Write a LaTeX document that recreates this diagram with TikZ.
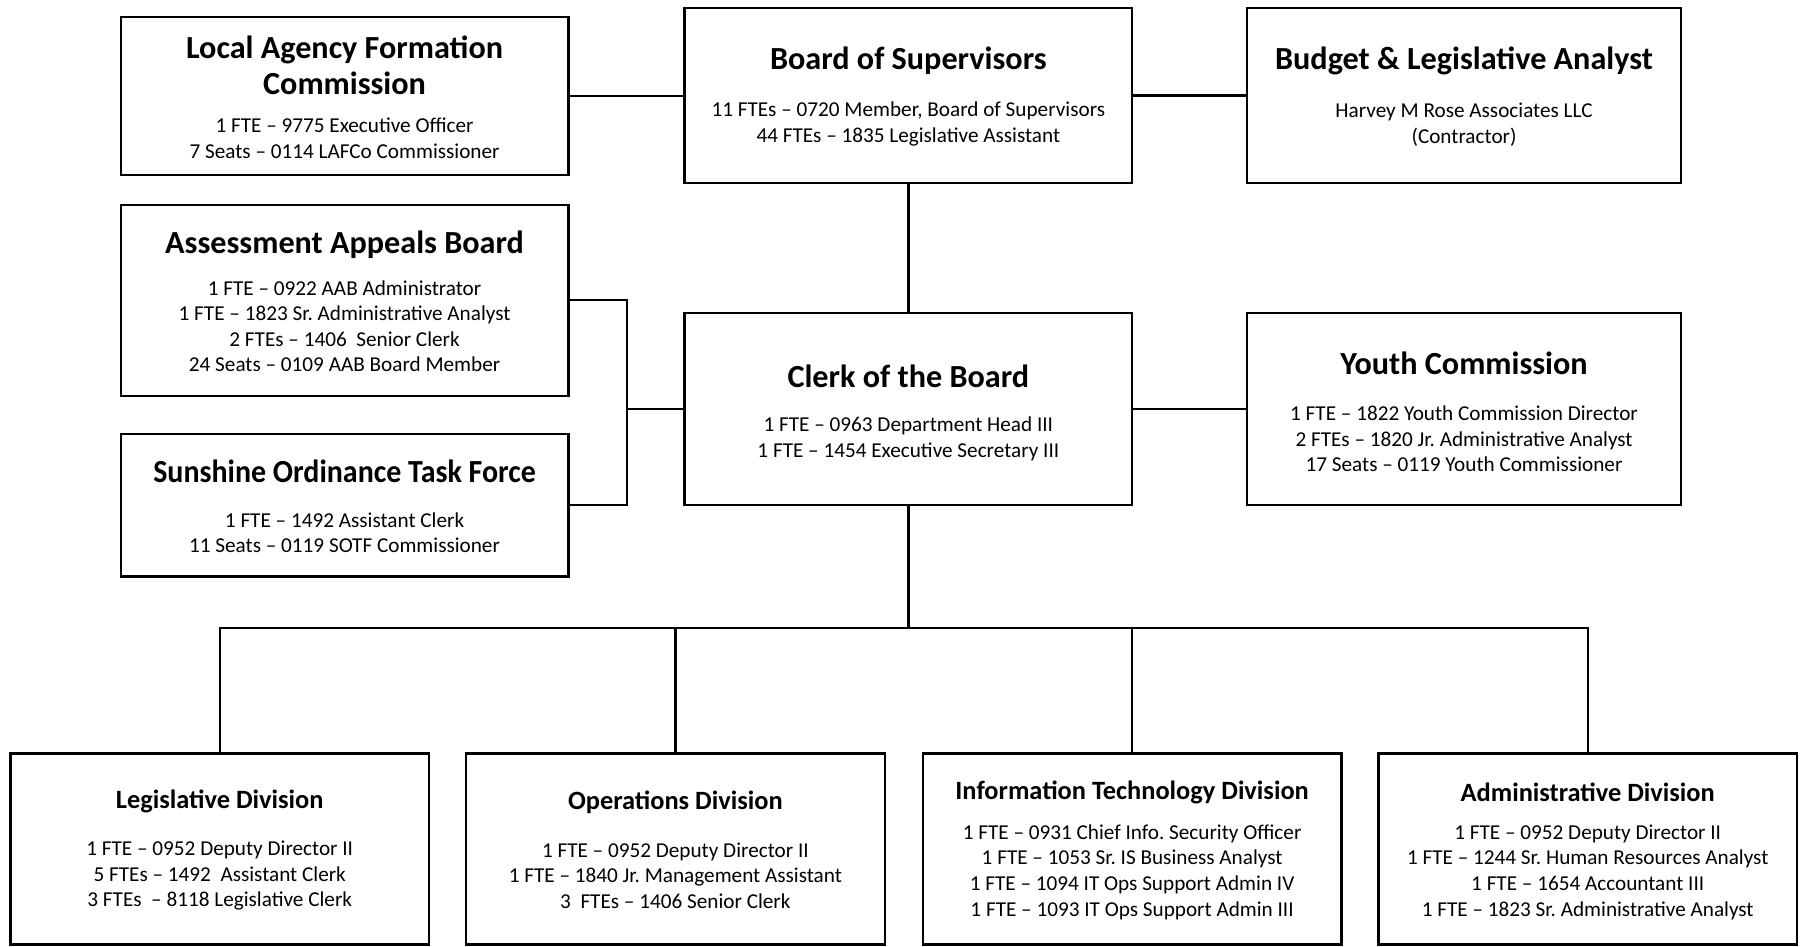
\documentclass[tikz,border=0pt]{standalone}
\usepackage{fontspec}
\setmainfont{Carlito}
\frenchspacing
\begin{document}
\begin{tikzpicture}[x=0.5753pt,y=-0.5753pt,
  orgbox/.style={draw, line width=1.2pt, inner sep=0pt, fill=white},
  wA/.style={minimum width=223.8pt},
  wB/.style={minimum width=216.9pt},
  wC/.style={minimum width=209.4pt},
  ttl/.style={font=\fontsize{16.1}{17.8}\selectfont\bfseries, align=center, inner sep=0pt},
  ttls/.style={font=\fontsize{13.2}{15}\selectfont\bfseries, align=center, inner sep=0pt},
  bdy/.style={font=\fontsize{10.6}{12.8}\selectfont, align=center, inner sep=0pt},
  conn/.style={line width=1.2pt}]
\useasboundingbox (0,0) rectangle (1568,823);
% boxes
\node[orgbox, wA, minimum height=78.8pt] (laf) at (299.5,83.5) {};
\node[orgbox, wA, minimum height=87.4pt] (bos) at (789.5,83) {};
\node[orgbox, wB, minimum height=87.4pt] (bla) at (1272.5,83) {};
\node[orgbox, wA, minimum height=95.5pt] (aab) at (299.5,261) {};
\node[orgbox, wA, minimum height=71.3pt] (sotf) at (299.5,439) {};
\node[orgbox, wA, minimum height=96.1pt] (clerk) at (789.5,355.5) {};
\node[orgbox, wB, minimum height=96.1pt] (youth) at (1272.5,355.5) {};
\node[orgbox, wC, minimum height=95.5pt] (leg) at (191,738) {};
\node[orgbox, wC, minimum height=95.5pt] (ops) at (587,738) {};
\node[orgbox, wC, minimum height=95.5pt] (it) at (984,738) {};
\node[orgbox, wC, minimum height=95.5pt] (adm) at (1380,738) {};
% texts
\node[ttl] (lafT) at (299.5,57) {Local Agency Formation\\Commission};
\node[bdy] (lafB) at (299.5,120) {1 FTE – 9775 Executive Officer\\7 Seats – 0114 LAFCo Commissioner};
\node[ttl] (bosT) at (789.5,53) {Board of Supervisors};
\node[bdy] (bosB) at (789.5,108) {11 FTEs – 0720 Member, Board of Supervisors\\44 FTEs – 1835 Legislative Assistant};
\node[ttl] (blaT) at (1272.5,53) {Budget \& Legislative Analyst};
\node[bdy] (blaB) at (1272.5,108.5) {Harvey M Rose Associates LLC\\(Contractor)};
\node[ttl] (aabT) at (299.5,213) {Assessment Appeals Board};
\node[bdy] (aabB) at (299.5,283.5) {1 FTE – 0922 AAB Administrator\\1 FTE – 1823 Sr. Administrative Analyst\\2 FTEs – 1406\ \ Senior Clerk\\24 Seats – 0109 AAB Board Member};
\node[ttl] (sotfT) at (299.5,410) {\scalebox{0.93}[1]{Sunshine Ordinance Task Force}};
\node[bdy] (sotfB) at (299.5,463) {1 FTE – 1492 Assistant Clerk\\11 Seats – 0119 SOTF Commissioner};
\node[ttl] (clerkT) at (789.5,327) {Clerk of the Board};
\node[bdy] (clerkB) at (789.5,381.5) {1 FTE – 0963 Department Head III\\1 FTE – 1454 Executive Secretary III};
\node[ttl] (youthT) at (1272.5,316) {Youth Commission};
\node[bdy] (youthB) at (1272.5,381.5) {1 FTE – 1822 Youth Commission Director\\2 FTEs – 1820 Jr. Administrative Analyst\\17 Seats – 0119 Youth Commissioner};
\node[ttls] (legT) at (191,697) {Legislative Division};
\node[bdy] (legB) at (191,761) {1 FTE – 0952 Deputy Director II\\5 FTEs – 1492\ \ Assistant Clerk\\3 FTEs\ \ – 8118 Legislative Clerk};
\node[ttls] (opsT) at (587,697) {Operations Division};
\node[bdy] (opsB) at (587,761) {1 FTE – 0952 Deputy Director II\\1 FTE – 1840 Jr. Management Assistant\\3\ \ FTEs – 1406 Senior Clerk};
\node[ttls] (itT) at (984,689) {Information Technology Division};
\node[bdy] (itB) at (984,758) {1 FTE – 0931 Chief Info. Security Officer\\1 FTE – 1053 Sr. IS Business Analyst\\1 FTE – 1094 IT Ops Support Admin IV\\1 FTE – 1093 IT Ops Support Admin III};
\node[ttls] (admT) at (1380,689) {Administrative Division};
\node[bdy] (admB) at (1380,758) {1 FTE – 0952 Deputy Director II\\1 FTE – 1244 Sr. Human Resources Analyst\\1 FTE – 1654 Accountant III\\1 FTE – 1823 Sr. Administrative Analyst};
% connectors
\coordinate (jl) at (545,355.5);
\coordinate (bus) at (789.5,546);
\draw[conn] (laf.east) -- (laf.east -| bos.west);
\draw[conn] (bos.east) -- (bla.west);
\draw[conn] (bos.south) -- (clerk.north);
\draw[conn] (aab.east) -| (jl) |- (sotf.east);
\draw[conn] (jl) -- (clerk.west);
\draw[conn] (clerk.east) -- (youth.west);
\draw[conn] (clerk.south) -- (bus);
\draw[conn] (leg.north) |- (bus) -| (adm.north);
\draw[conn] (ops.north) -- (ops.north |- bus);
\draw[conn] (it.north) -- (it.north |- bus);
\end{tikzpicture}
\end{document}
